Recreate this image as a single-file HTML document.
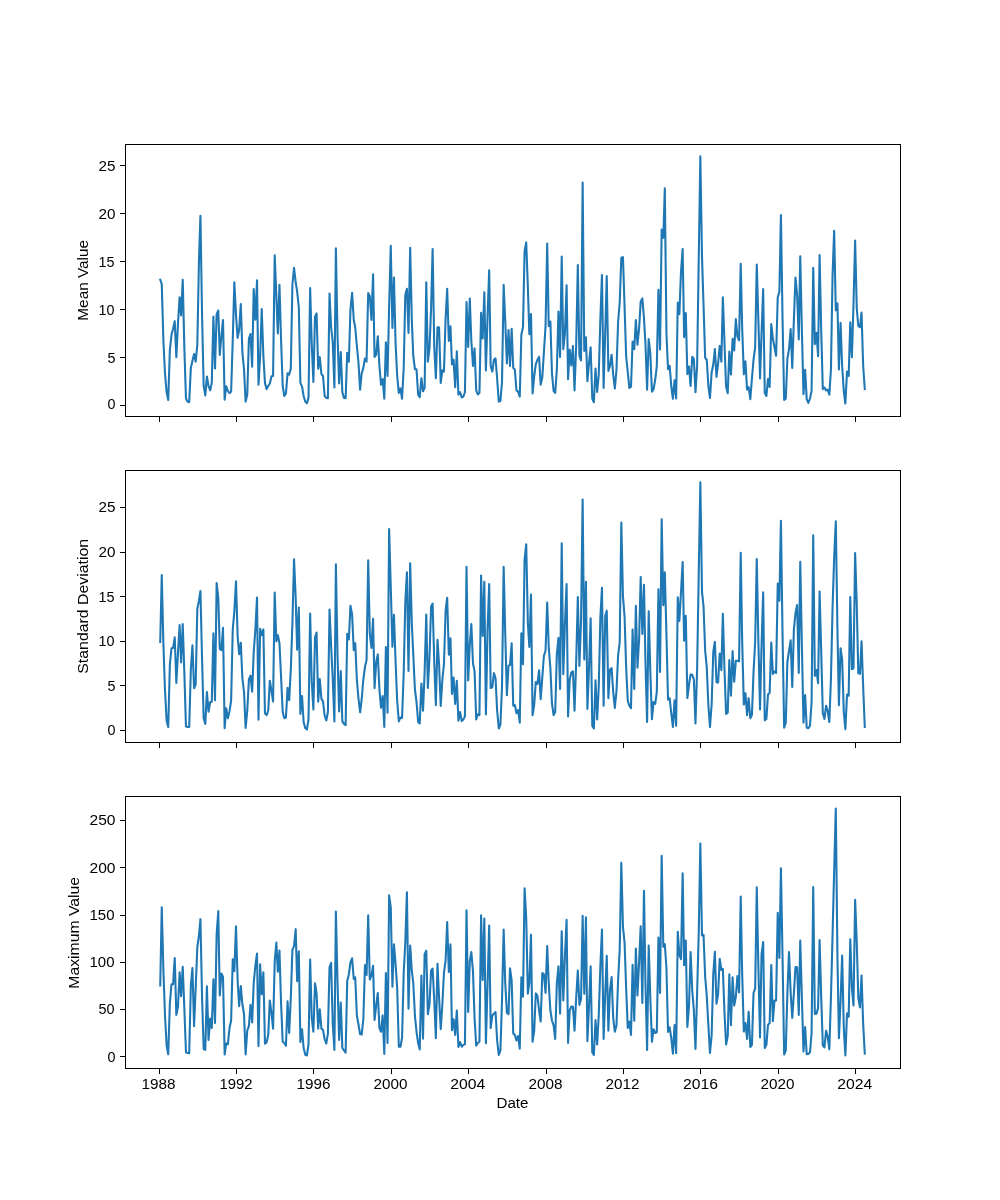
<!DOCTYPE html>
<html><head><meta charset="utf-8"><title>Monthly statistics</title>
<style>
html,body{margin:0;padding:0;background:#fff;}
svg{display:block;will-change:transform;}
text{font-family:"Liberation Sans",sans-serif;fill:#000;}
.ln{fill:none;stroke:#1f77b4;stroke-width:2.083;stroke-linejoin:round;stroke-linecap:square;}
.ax{fill:none;stroke:#000;stroke-width:1.000;shape-rendering:crispEdges;}
.tk{stroke:#000;stroke-width:1.000;shape-rendering:crispEdges;}
</style></head>
<body>
<svg width="1000" height="1200" viewBox="0 0 1000 1200">
<rect x="0" y="0" width="1000" height="1200" fill="#ffffff"/>
<polyline class="ln" points="160.23,279.75 161.76,284.12 163.41,341.00 164.99,373.50 166.64,392.25 168.23,400.00 169.87,349.75 171.51,334.75 173.10,328.50 174.74,321.18 176.33,357.25 177.97,323.50 179.62,297.18 181.10,315.38 182.74,279.67 184.33,347.25 185.97,398.50 187.56,401.62 189.20,402.25 190.85,367.87 192.43,361.00 194.08,354.05 195.67,361.62 197.31,344.75 198.95,261.05 200.43,215.76 202.08,316.00 203.67,386.00 205.31,395.38 206.90,376.55 208.54,386.00 210.18,390.37 211.77,382.87 213.41,316.55 215.00,368.50 216.64,314.12 218.29,310.55 219.77,355.00 221.41,336.00 223.00,320.05 224.64,399.75 226.23,386.30 227.87,391.00 229.52,393.25 231.11,391.63 232.75,339.75 234.34,282.18 235.98,314.75 237.62,337.88 239.16,329.75 240.80,304.05 242.39,352.25 244.03,369.75 245.62,401.62 247.26,394.75 248.90,338.50 250.49,334.05 252.14,366.63 253.72,289.05 255.37,319.75 257.01,280.30 258.49,384.75 260.13,356.00 261.72,309.05 263.37,356.00 264.96,382.87 266.60,389.12 268.24,386.00 269.83,383.50 271.47,376.18 273.06,376.00 274.70,255.27 276.34,296.00 277.83,333.50 279.47,284.68 281.06,339.75 282.70,386.00 284.29,396.00 285.93,393.50 287.57,373.18 289.16,374.75 290.81,368.50 292.40,284.75 294.04,267.80 295.68,282.25 297.16,291.62 298.81,307.25 300.39,382.87 302.04,386.62 303.63,396.00 305.27,401.62 306.91,403.25 308.50,397.87 310.14,288.05 311.73,343.50 313.37,382.00 315.02,316.62 316.55,313.42 318.19,368.75 319.78,357.17 321.42,374.13 323.01,376.00 324.66,396.00 326.30,397.87 327.89,398.25 329.53,293.43 331.12,327.25 332.76,342.25 334.40,387.50 335.89,248.27 337.53,336.00 339.12,383.50 340.76,351.92 342.35,392.25 343.99,397.87 345.63,398.25 347.22,352.80 348.86,361.62 350.45,309.75 352.10,292.80 353.74,319.75 355.22,327.25 356.86,346.00 358.45,362.25 360.10,389.75 361.68,373.50 363.33,367.87 364.97,358.43 366.56,361.62 368.20,293.05 369.79,296.00 371.43,320.00 373.07,274.30 374.56,357.00 376.20,354.75 377.79,336.18 379.43,366.00 381.02,384.75 382.66,379.05 384.30,398.75 385.89,342.17 387.54,376.00 389.12,307.08 390.77,245.77 392.41,327.87 393.95,277.55 395.59,343.50 397.18,376.00 398.82,392.87 400.41,388.42 402.05,398.75 403.69,368.50 405.28,295.37 406.92,288.80 408.51,332.88 410.16,247.79 411.80,319.75 413.28,356.00 414.92,369.13 416.51,369.30 418.15,394.75 419.74,397.25 421.39,378.17 423.03,391.25 424.62,387.88 426.26,282.18 427.85,361.62 429.49,348.50 431.13,307.25 432.62,249.03 434.26,347.25 435.85,378.25 437.49,327.25 439.08,327.25 440.72,382.87 442.36,370.30 443.95,371.62 445.59,318.50 447.18,288.80 448.83,341.00 450.47,326.30 451.95,364.50 453.59,359.67 455.18,387.25 456.82,351.30 458.41,394.75 460.06,392.17 461.70,397.50 463.29,396.62 464.93,392.25 466.52,301.92 468.16,347.00 469.80,298.42 471.34,341.00 472.98,366.00 474.57,348.42 476.21,390.37 477.80,394.50 479.44,392.87 481.09,312.80 482.68,338.50 484.32,292.18 485.91,370.38 487.55,316.00 489.19,270.30 490.67,366.00 492.32,371.62 493.91,359.75 495.55,358.43 497.14,378.50 498.78,401.62 500.42,401.00 502.01,382.25 503.65,284.68 505.24,321.00 506.88,363.50 508.53,330.05 510.01,366.00 511.65,328.80 513.24,367.87 514.88,369.75 516.47,390.37 518.11,391.63 519.76,396.62 521.35,334.75 522.99,327.25 524.58,251.46 526.22,242.42 527.86,286.94 529.35,334.13 530.99,314.05 532.58,393.50 534.22,376.00 535.81,364.12 537.45,359.75 539.09,356.80 540.68,384.75 542.32,377.25 543.91,352.25 545.55,326.00 547.20,243.57 548.73,326.00 550.38,321.55 551.96,373.50 553.61,391.00 555.20,392.87 556.84,369.75 558.48,311.55 560.07,357.00 561.71,256.51 563.30,349.12 564.94,333.50 566.59,285.30 568.07,379.12 569.71,349.67 571.30,365.38 572.94,345.92 574.53,390.37 576.17,346.00 577.82,265.05 579.40,356.00 581.05,360.37 582.64,182.58 584.28,351.00 585.92,337.18 587.40,381.25 589.05,362.25 590.64,347.18 592.28,398.50 593.87,402.25 595.51,368.43 597.15,392.00 598.74,374.75 600.38,318.50 601.97,275.05 603.61,387.88 605.26,331.00 606.74,275.92 608.38,371.00 609.97,366.00 611.61,354.68 613.20,374.75 614.84,388.50 616.49,369.75 618.08,322.25 619.72,302.25 621.31,257.79 622.95,257.09 624.59,307.25 626.13,356.00 627.77,372.25 629.36,387.88 631.00,386.62 632.59,341.55 634.23,349.12 635.87,320.05 637.46,344.75 639.11,328.50 640.69,301.63 642.34,298.42 643.98,318.50 645.46,343.50 647.10,389.75 648.69,339.05 650.34,353.50 651.93,391.63 653.57,389.12 655.21,379.75 656.80,366.00 658.44,289.68 660.03,349.50 661.67,229.57 663.31,237.75 664.80,188.33 666.44,333.50 668.03,369.13 669.67,365.93 671.26,386.00 672.90,398.75 674.54,380.30 676.13,398.50 677.78,302.55 679.37,314.12 681.01,271.60 682.65,249.03 684.13,337.25 685.78,313.05 687.36,374.13 689.01,366.55 690.60,386.00 692.24,356.80 693.88,359.13 695.47,392.25 697.11,366.00 698.70,261.05 700.34,156.30 701.99,256.25 703.52,304.75 705.16,357.87 706.75,359.75 708.39,386.00 709.98,397.87 711.63,372.25 713.27,364.75 714.86,349.05 716.50,377.00 718.09,363.50 719.73,345.92 721.37,361.62 722.86,297.18 724.50,343.50 726.09,386.62 727.73,393.25 729.32,351.55 730.96,374.50 732.60,338.80 734.19,350.37 735.83,319.05 737.42,336.63 739.07,340.38 740.71,263.80 742.19,328.50 743.83,374.13 745.42,361.30 747.07,389.75 748.65,387.18 750.30,399.13 751.94,378.50 753.53,359.75 755.17,347.25 756.76,264.57 758.40,321.00 760.04,378.50 761.53,333.50 763.17,289.05 764.76,392.87 766.40,396.00 767.99,379.05 769.63,387.00 771.27,324.05 772.86,338.50 774.51,347.25 776.09,355.75 777.74,297.25 779.38,291.62 780.92,215.09 782.56,319.75 784.15,400.00 785.79,398.75 787.38,358.50 789.02,349.12 790.66,329.05 792.25,367.87 793.89,319.75 795.48,277.55 797.13,294.75 798.77,339.50 800.25,256.32 801.89,331.00 803.48,394.12 805.12,369.68 806.71,399.13 808.36,402.88 810.00,398.50 811.59,391.00 813.23,267.80 814.82,344.13 816.46,332.80 818.10,356.25 819.59,255.08 821.23,331.00 822.82,389.12 824.46,387.55 826.05,390.37 827.69,389.67 829.33,394.75 830.92,369.75 832.56,275.43 834.15,230.81 835.80,310.37 837.44,303.43 838.92,369.50 840.56,322.80 842.15,366.00 843.79,391.00 845.38,403.50 847.03,371.55 848.67,376.00 850.26,322.18 851.90,357.25 853.49,304.20 855.13,240.59 856.77,308.50 858.31,326.00 859.95,327.25 861.54,312.55 863.18,366.00 864.77,389.12"/>
<rect class="ax" x="125.5" y="144.5" width="775.0" height="272.0"/>
<line class="tk" x1="159.5" y1="416.5" x2="159.5" y2="421.9"/><line class="tk" x1="236.5" y1="416.5" x2="236.5" y2="421.9"/><line class="tk" x1="313.5" y1="416.5" x2="313.5" y2="421.9"/><line class="tk" x1="391.5" y1="416.5" x2="391.5" y2="421.9"/><line class="tk" x1="468.5" y1="416.5" x2="468.5" y2="421.9"/><line class="tk" x1="546.5" y1="416.5" x2="546.5" y2="421.9"/><line class="tk" x1="623.5" y1="416.5" x2="623.5" y2="421.9"/><line class="tk" x1="700.5" y1="416.5" x2="700.5" y2="421.9"/><line class="tk" x1="778.5" y1="416.5" x2="778.5" y2="421.9"/><line class="tk" x1="855.5" y1="416.5" x2="855.5" y2="421.9"/>
<line class="tk" x1="120.1" y1="405.5" x2="125.5" y2="405.5"/><line class="tk" x1="120.1" y1="357.5" x2="125.5" y2="357.5"/><line class="tk" x1="120.1" y1="309.5" x2="125.5" y2="309.5"/><line class="tk" x1="120.1" y1="261.5" x2="125.5" y2="261.5"/><line class="tk" x1="120.1" y1="213.5" x2="125.5" y2="213.5"/><line class="tk" x1="120.1" y1="165.5" x2="125.5" y2="165.5"/>
<polyline class="ln" points="160.23,642.00 161.76,575.08 163.41,644.50 164.99,690.75 166.64,720.75 168.23,727.00 169.87,664.50 171.51,648.18 173.10,648.00 174.74,637.30 176.33,683.00 177.97,653.25 179.62,625.05 181.10,662.38 182.74,624.05 184.33,672.00 185.97,726.38 187.56,727.00 189.20,727.00 190.85,669.50 192.43,645.30 194.08,688.25 195.67,684.50 197.31,608.88 198.95,600.75 200.43,591.04 202.08,659.50 203.67,718.25 205.31,723.87 206.90,691.93 208.54,711.75 210.18,702.00 211.77,701.75 213.41,633.17 215.00,700.13 216.64,583.02 218.29,597.98 219.77,648.87 221.41,650.12 223.00,627.80 224.64,728.25 226.23,708.17 227.87,718.25 229.52,711.38 231.11,700.75 232.75,629.50 234.34,611.36 235.98,581.32 237.62,635.75 239.16,654.25 240.80,642.80 242.39,678.25 244.03,692.00 245.62,728.00 247.26,710.75 248.90,679.50 250.49,675.68 252.14,691.75 253.72,652.00 255.37,629.50 257.01,597.55 258.49,719.75 260.13,628.80 261.72,635.13 263.37,629.43 264.96,713.25 266.60,715.12 268.24,710.75 269.83,680.67 271.47,690.75 273.06,701.38 274.70,592.56 276.34,641.37 277.83,635.05 279.47,643.25 281.06,677.00 282.70,712.00 284.29,718.25 285.93,717.63 287.57,687.80 289.16,700.13 290.81,669.50 292.40,623.25 294.04,559.29 295.68,597.98 297.16,649.75 298.81,607.55 300.39,713.87 302.04,696.05 303.63,722.00 305.27,728.25 306.91,729.50 308.50,719.50 310.14,613.55 311.73,682.00 313.37,709.50 315.02,637.62 316.55,632.55 318.19,701.75 319.78,679.05 321.42,698.88 323.01,701.38 324.66,715.75 326.30,720.50 327.89,712.00 329.53,609.43 331.12,645.75 332.76,679.50 334.40,721.37 335.89,564.28 337.53,655.75 339.12,711.38 340.76,671.05 342.35,721.37 343.99,723.87 345.63,725.12 347.22,633.80 348.86,639.50 350.45,605.67 352.10,614.50 353.74,650.12 355.22,643.17 356.86,679.50 358.45,698.25 360.10,712.25 361.68,699.50 363.33,679.50 364.97,667.00 366.56,660.12 368.20,560.27 369.79,633.25 371.43,648.00 373.07,618.80 374.56,688.25 376.20,662.00 377.79,654.42 379.43,689.50 381.02,707.63 382.66,696.05 384.30,727.00 385.89,646.93 387.54,712.62 389.12,529.05 390.77,587.28 392.41,646.75 393.95,614.80 395.59,662.00 397.18,700.75 398.82,721.37 400.41,717.55 402.05,718.00 403.69,673.25 405.28,602.44 406.92,572.40 408.51,671.00 410.16,563.30 411.80,623.25 413.28,654.50 414.92,689.50 416.51,702.00 418.15,722.00 419.74,723.50 421.39,683.55 423.03,710.75 424.62,672.00 426.26,614.42 427.85,688.00 429.49,657.00 431.13,606.38 432.62,603.55 434.26,662.00 435.85,705.12 437.49,639.80 439.08,664.50 440.72,706.00 442.36,679.50 443.95,664.50 445.59,610.75 447.18,597.80 448.83,654.75 450.47,638.18 451.95,693.87 453.59,677.55 455.18,703.87 456.82,680.67 458.41,720.75 460.06,711.93 461.70,721.12 463.29,719.50 464.93,716.38 466.52,566.78 468.16,680.50 469.80,644.50 471.34,624.05 472.98,663.25 474.57,671.38 476.21,719.50 477.80,714.43 479.44,715.12 481.09,575.52 482.68,636.00 484.32,581.77 485.91,714.50 487.55,629.20 489.19,584.09 490.67,688.00 492.32,687.25 493.91,673.17 495.55,678.25 497.14,710.75 498.78,728.50 500.42,724.50 502.01,687.00 503.65,566.78 505.24,633.25 506.88,695.12 508.53,665.75 510.01,665.12 511.65,643.17 513.24,705.75 514.88,705.05 516.47,713.25 518.11,710.05 519.76,722.62 521.35,633.17 522.99,664.25 524.58,559.63 526.22,544.30 527.86,623.25 529.35,647.00 530.99,594.42 532.58,715.12 534.22,704.50 535.81,681.92 537.45,683.87 539.09,670.30 540.68,699.25 542.32,677.00 543.91,655.75 545.55,650.75 547.20,602.55 548.73,647.00 550.38,668.25 551.96,703.25 553.61,715.12 555.20,712.00 556.84,654.50 558.48,637.80 560.07,688.88 561.71,543.32 563.30,674.25 564.94,622.96 566.59,584.09 568.07,716.38 569.71,679.50 571.30,672.63 572.94,671.30 574.53,710.75 576.17,662.00 577.82,596.92 579.40,666.00 581.05,620.28 582.64,499.53 584.28,659.50 585.92,581.77 587.40,708.88 589.05,667.00 590.64,618.18 592.28,725.75 593.87,728.50 595.51,680.30 597.15,719.50 598.74,687.00 600.38,617.00 601.97,587.83 603.61,705.75 605.26,615.82 606.74,610.68 608.38,698.25 609.97,669.50 611.61,668.18 613.20,692.00 614.84,708.00 616.49,690.75 618.08,655.75 619.72,642.00 621.31,522.45 622.95,596.20 624.59,617.00 626.13,667.00 627.77,700.75 629.36,705.75 631.00,708.25 632.59,629.43 634.23,688.88 635.87,605.67 637.46,667.62 639.11,639.50 640.69,577.04 642.34,633.88 643.98,584.89 645.46,662.00 647.10,722.00 648.69,611.30 650.34,672.00 651.93,719.25 653.57,701.93 655.21,703.87 656.80,692.00 658.44,589.26 660.03,672.00 661.67,519.33 663.31,605.13 664.80,572.40 666.44,634.50 668.03,699.75 669.67,698.17 671.26,713.25 672.90,727.00 674.54,700.30 676.13,725.75 677.78,597.30 679.37,621.00 681.01,591.74 682.65,562.14 684.13,640.75 685.78,615.67 687.36,698.00 689.01,684.50 690.60,674.50 692.24,674.80 693.88,679.50 695.47,723.50 697.11,669.50 698.70,575.68 700.34,482.40 701.99,591.83 703.52,606.01 705.16,650.75 706.75,667.00 708.39,705.75 709.98,727.00 711.63,704.50 713.27,652.00 714.86,641.92 716.50,682.25 718.09,682.63 719.73,653.55 721.37,670.13 722.86,613.80 724.50,669.50 726.09,713.87 727.73,712.62 729.32,660.05 730.96,695.75 732.60,651.05 734.19,681.75 735.83,660.75 737.42,660.67 739.07,661.38 740.71,552.78 742.19,642.00 743.83,704.50 745.42,693.18 747.07,715.12 748.65,698.17 750.30,718.25 751.94,715.12 753.53,672.00 755.17,642.00 756.76,559.02 758.40,642.00 760.04,709.50 761.53,645.75 763.17,592.38 764.76,720.13 766.40,718.88 767.99,694.50 769.63,693.00 771.27,642.55 772.86,673.88 774.51,671.30 776.09,673.00 777.74,583.64 779.38,600.75 780.92,520.84 782.56,635.75 784.15,727.63 785.79,722.62 787.38,662.00 789.02,650.75 790.66,640.30 792.25,687.00 793.89,629.50 795.48,613.25 797.13,605.05 798.77,673.00 800.25,561.79 801.89,645.75 803.48,722.62 805.12,695.05 806.71,727.63 808.36,728.25 810.00,725.75 811.59,702.00 813.23,535.29 814.82,676.00 816.46,670.05 818.10,683.25 819.59,591.58 821.23,652.00 822.82,713.25 824.46,718.88 826.05,705.68 827.69,710.75 829.33,722.00 830.92,679.50 832.56,607.80 834.15,557.84 835.80,521.20 837.44,629.50 838.92,705.12 840.56,648.18 842.15,659.50 843.79,712.00 845.38,729.25 847.03,694.43 848.67,695.75 850.26,596.92 851.90,669.25 853.49,668.25 855.13,553.05 856.77,605.12 858.31,673.25 859.95,673.88 861.54,641.30 863.18,687.00 864.77,727.00"/>
<rect class="ax" x="125.5" y="470.5" width="775.0" height="272.0"/>
<line class="tk" x1="159.5" y1="742.5" x2="159.5" y2="747.9"/><line class="tk" x1="236.5" y1="742.5" x2="236.5" y2="747.9"/><line class="tk" x1="313.5" y1="742.5" x2="313.5" y2="747.9"/><line class="tk" x1="391.5" y1="742.5" x2="391.5" y2="747.9"/><line class="tk" x1="468.5" y1="742.5" x2="468.5" y2="747.9"/><line class="tk" x1="546.5" y1="742.5" x2="546.5" y2="747.9"/><line class="tk" x1="623.5" y1="742.5" x2="623.5" y2="747.9"/><line class="tk" x1="700.5" y1="742.5" x2="700.5" y2="747.9"/><line class="tk" x1="778.5" y1="742.5" x2="778.5" y2="747.9"/><line class="tk" x1="855.5" y1="742.5" x2="855.5" y2="747.9"/>
<line class="tk" x1="120.1" y1="730.5" x2="125.5" y2="730.5"/><line class="tk" x1="120.1" y1="685.5" x2="125.5" y2="685.5"/><line class="tk" x1="120.1" y1="641.5" x2="125.5" y2="641.5"/><line class="tk" x1="120.1" y1="596.5" x2="125.5" y2="596.5"/><line class="tk" x1="120.1" y1="552.5" x2="125.5" y2="552.5"/><line class="tk" x1="120.1" y1="507.5" x2="125.5" y2="507.5"/>
<polyline class="ln" points="160.23,985.50 161.76,907.35 163.41,970.50 164.99,1015.50 166.64,1045.50 168.23,1054.25 169.87,1003.00 171.51,984.25 173.10,984.25 174.74,957.93 176.33,1014.87 177.97,1006.75 179.62,972.30 181.10,996.12 182.74,966.68 184.33,1008.00 185.97,1052.38 187.56,1053.00 189.20,1053.25 190.85,985.50 192.43,967.93 194.08,1026.12 195.67,988.00 197.31,947.38 198.95,935.50 200.43,919.17 202.08,998.00 203.67,1049.00 205.31,1049.87 206.90,986.30 208.54,1039.87 210.18,1018.55 211.77,1028.00 213.41,979.18 215.00,1023.00 216.64,934.25 218.29,911.04 219.77,995.50 221.41,973.55 223.00,976.75 224.64,1054.50 226.23,1043.55 227.87,1044.25 229.52,1028.00 231.11,1020.50 232.75,959.17 234.34,971.13 235.98,926.30 237.62,980.50 239.16,1006.12 240.80,986.05 242.39,1004.25 244.03,1014.25 245.62,1054.50 247.26,1030.50 248.90,1026.12 250.49,1004.80 252.14,1022.38 253.72,983.00 255.37,965.50 257.01,953.55 258.49,1046.12 260.13,964.17 261.72,994.25 263.37,972.30 264.96,1043.63 266.60,1042.38 268.24,1034.87 269.83,1000.42 271.47,1013.00 273.06,1028.63 274.70,961.75 276.34,942.55 277.83,971.75 279.47,950.42 281.06,1003.00 282.70,1041.75 284.29,1043.00 285.93,1045.75 287.57,1001.30 289.16,1033.00 290.81,998.00 292.40,949.87 294.04,946.13 295.68,929.17 297.16,981.12 298.81,951.30 300.39,1042.00 302.04,1029.18 303.63,1048.00 305.27,1054.87 306.91,1055.50 308.50,1044.25 310.14,959.55 311.73,1018.00 313.37,1031.75 315.02,983.30 316.55,993.00 318.19,1028.63 319.78,1009.18 321.42,1028.63 323.01,1029.87 324.66,1039.25 326.30,1043.63 327.89,1033.63 329.53,967.38 331.12,962.93 332.76,1024.25 334.40,1049.87 335.89,911.60 337.53,983.00 339.12,1039.87 340.76,1002.55 342.35,1048.00 343.99,1050.50 345.63,1052.75 347.22,981.12 348.86,974.25 350.45,962.38 352.10,958.30 353.74,979.00 355.22,977.30 356.86,1015.50 358.45,1024.25 360.10,1034.25 361.68,1034.50 363.33,1019.25 364.97,965.05 366.56,974.87 368.20,915.29 369.79,979.50 371.43,975.50 373.07,965.80 374.56,1019.87 376.20,1005.50 377.79,992.93 379.43,1028.00 381.02,1031.75 382.66,1015.42 384.30,1054.00 385.89,972.93 387.54,1043.00 389.12,895.35 390.77,907.27 392.41,986.75 393.95,944.17 395.59,964.25 397.18,988.00 398.82,1046.75 400.41,1046.75 402.05,1038.00 403.69,973.00 405.28,943.00 406.92,892.32 408.51,1008.63 410.16,945.42 411.80,970.50 413.28,983.00 414.92,1015.50 416.51,1031.75 418.15,1043.00 419.74,1049.50 421.39,975.42 423.03,1038.63 424.62,954.25 426.26,950.80 427.85,1014.25 429.49,1004.25 431.13,970.50 432.62,968.55 434.26,1000.50 435.85,1038.25 437.49,963.80 439.08,998.00 440.72,1029.25 442.36,1004.25 443.95,973.00 445.59,960.50 447.18,922.05 448.83,972.00 450.47,944.17 451.95,1030.25 453.59,1019.18 455.18,1034.87 456.82,1010.42 458.41,1047.00 460.06,1042.05 461.70,1046.75 463.29,1044.87 464.93,1044.25 466.52,910.28 468.16,1012.00 469.80,961.13 471.34,952.05 472.98,971.75 474.57,1018.00 476.21,1045.75 477.80,1043.00 479.44,1041.75 481.09,915.29 482.68,979.87 484.32,918.60 485.91,1043.25 487.55,984.25 489.19,925.42 490.67,1028.00 492.32,1015.50 493.91,1013.63 495.55,1012.05 497.14,1040.50 498.78,1054.87 500.42,1050.50 502.01,1000.50 503.65,929.55 505.24,983.00 506.88,1012.75 508.53,1014.25 510.01,968.30 511.65,980.50 513.24,1033.63 514.88,1034.87 516.47,1040.50 518.11,1036.05 519.76,1048.63 521.35,977.30 522.99,996.75 524.58,888.26 526.22,918.23 527.86,993.63 529.35,983.00 530.99,934.80 532.58,1041.75 534.22,1030.50 535.81,993.30 537.45,995.50 539.09,1010.50 540.68,1021.50 542.32,972.93 543.91,974.25 545.55,993.00 547.20,946.05 548.73,983.00 550.38,1010.50 551.96,1020.50 553.61,1025.50 555.20,1039.00 556.84,983.00 558.48,966.30 560.07,1013.63 561.71,931.30 563.30,1000.50 564.94,955.50 566.59,919.80 568.07,1043.00 569.71,1010.50 571.30,1006.50 572.94,1006.67 574.53,1030.75 576.17,998.00 577.82,970.42 579.40,1004.87 581.05,999.25 582.64,915.76 584.28,993.63 585.92,917.27 587.40,1041.12 589.05,1005.50 590.64,966.30 592.28,1052.38 593.87,1054.87 595.51,1020.05 597.15,1044.50 598.74,1015.50 600.38,965.50 601.97,929.55 603.61,1039.00 605.26,993.00 606.74,955.80 608.38,1030.75 609.97,990.50 611.61,977.05 613.20,1018.00 614.84,1031.75 616.49,1025.50 618.08,980.50 619.72,949.25 621.31,862.84 622.95,926.70 624.59,943.00 626.13,988.00 627.77,1028.00 629.36,1021.67 631.00,1034.87 632.59,964.80 634.23,1020.75 635.87,948.55 637.46,995.50 639.11,961.75 640.69,926.30 642.34,1003.00 643.98,890.81 645.46,983.00 647.10,1049.87 648.69,945.42 650.34,998.00 651.93,1041.75 653.57,1029.18 655.21,1033.00 656.80,1032.38 658.44,937.55 660.03,993.00 661.67,855.85 663.31,946.75 664.80,944.17 666.44,968.00 668.03,1032.00 669.67,1027.30 671.26,1038.00 672.90,1053.63 674.54,1025.05 676.13,1053.25 677.78,931.68 679.37,954.87 681.01,959.25 682.65,873.33 684.13,965.25 685.78,940.42 687.36,1027.00 689.01,1005.50 690.60,952.05 692.24,990.50 693.88,1010.50 695.47,1049.00 697.11,993.00 698.70,934.25 700.34,843.56 701.99,935.50 703.52,934.80 705.16,976.75 706.75,995.50 708.39,1025.50 709.98,1053.00 711.63,1035.50 713.27,974.25 714.86,951.68 716.50,1003.63 718.09,994.25 719.73,958.80 721.37,969.87 722.86,968.80 724.50,1013.00 726.09,1044.50 727.73,1036.12 729.32,974.18 730.96,1025.25 732.60,977.30 734.19,1005.50 735.83,996.75 737.42,976.05 739.07,992.38 740.71,896.58 742.19,974.25 743.83,1031.50 745.42,1022.93 747.07,1039.00 748.65,1011.67 750.30,1047.00 751.94,1044.87 753.53,993.00 755.17,988.63 756.76,887.32 758.40,968.00 760.04,1037.38 761.53,954.25 763.17,942.05 764.76,1048.00 766.40,1044.87 767.99,1024.87 769.63,1023.00 771.27,965.05 772.86,1021.12 774.51,1000.42 776.09,1000.50 777.74,912.83 779.38,958.00 780.92,868.23 782.56,958.00 784.15,1054.50 785.79,1050.50 787.38,993.00 789.02,952.05 790.66,993.00 792.25,1018.00 793.89,993.00 795.48,967.05 797.13,967.38 798.77,1014.87 800.25,940.42 801.89,998.00 803.48,1051.50 805.12,1027.05 806.71,1054.25 808.36,1054.00 810.00,1052.38 811.59,1033.00 813.23,886.94 814.82,1014.00 816.46,1013.63 818.10,1008.00 819.59,940.05 821.23,998.00 822.82,1045.50 824.46,1047.38 826.05,1030.80 827.69,1036.75 829.33,1049.25 830.92,998.00 832.56,935.24 834.15,870.98 835.80,808.50 837.44,956.97 838.92,1038.25 840.56,1000.50 842.15,955.42 843.79,1028.00 845.38,1055.50 847.03,1013.30 848.67,1016.75 850.26,939.17 851.90,988.00 853.49,1005.50 855.13,899.70 856.77,942.79 858.31,998.00 859.95,1007.38 861.54,975.42 863.18,1024.25 864.77,1053.63"/>
<rect class="ax" x="125.5" y="796.5" width="775.0" height="272.0"/>
<line class="tk" x1="159.5" y1="1068.5" x2="159.5" y2="1073.9"/><line class="tk" x1="236.5" y1="1068.5" x2="236.5" y2="1073.9"/><line class="tk" x1="313.5" y1="1068.5" x2="313.5" y2="1073.9"/><line class="tk" x1="391.5" y1="1068.5" x2="391.5" y2="1073.9"/><line class="tk" x1="468.5" y1="1068.5" x2="468.5" y2="1073.9"/><line class="tk" x1="546.5" y1="1068.5" x2="546.5" y2="1073.9"/><line class="tk" x1="623.5" y1="1068.5" x2="623.5" y2="1073.9"/><line class="tk" x1="700.5" y1="1068.5" x2="700.5" y2="1073.9"/><line class="tk" x1="778.5" y1="1068.5" x2="778.5" y2="1073.9"/><line class="tk" x1="855.5" y1="1068.5" x2="855.5" y2="1073.9"/>
<line class="tk" x1="120.1" y1="1056.5" x2="125.5" y2="1056.5"/><line class="tk" x1="120.1" y1="1009.5" x2="125.5" y2="1009.5"/><line class="tk" x1="120.1" y1="962.5" x2="125.5" y2="962.5"/><line class="tk" x1="120.1" y1="915.5" x2="125.5" y2="915.5"/><line class="tk" x1="120.1" y1="867.5" x2="125.5" y2="867.5"/><line class="tk" x1="120.1" y1="820.5" x2="125.5" y2="820.5"/>
<text x="98.50" y="171.00" font-size="14.00" textLength="17.00" lengthAdjust="spacingAndGlyphs">25</text>
<text x="98.50" y="219.00" font-size="14.00" textLength="17.00" lengthAdjust="spacingAndGlyphs">20</text>
<text x="98.50" y="267.00" font-size="14.00" textLength="16.00" lengthAdjust="spacingAndGlyphs">15</text>
<text x="98.50" y="315.00" font-size="14.00" textLength="16.00" lengthAdjust="spacingAndGlyphs">10</text>
<text x="107.50" y="362.70" font-size="14.00" textLength="8.00" lengthAdjust="spacingAndGlyphs">5</text>
<text x="107.50" y="409.00" font-size="14.00" textLength="8.00" lengthAdjust="spacingAndGlyphs">0</text>
<text x="98.50" y="512.00" font-size="14.00" textLength="17.00" lengthAdjust="spacingAndGlyphs">25</text>
<text x="98.50" y="557.00" font-size="14.00" textLength="17.00" lengthAdjust="spacingAndGlyphs">20</text>
<text x="98.50" y="602.00" font-size="14.00" textLength="16.00" lengthAdjust="spacingAndGlyphs">15</text>
<text x="98.50" y="646.00" font-size="14.00" textLength="16.00" lengthAdjust="spacingAndGlyphs">10</text>
<text x="107.50" y="691.00" font-size="14.00" textLength="8.00" lengthAdjust="spacingAndGlyphs">5</text>
<text x="107.50" y="735.00" font-size="14.00" textLength="8.00" lengthAdjust="spacingAndGlyphs">0</text>
<text x="89.50" y="825.00" font-size="14.00" textLength="26.00" lengthAdjust="spacingAndGlyphs">250</text>
<text x="89.50" y="873.00" font-size="14.00" textLength="26.00" lengthAdjust="spacingAndGlyphs">200</text>
<text x="89.50" y="920.00" font-size="14.00" textLength="25.00" lengthAdjust="spacingAndGlyphs">150</text>
<text x="89.50" y="967.00" font-size="14.00" textLength="25.00" lengthAdjust="spacingAndGlyphs">100</text>
<text x="98.50" y="1014.00" font-size="14.00" textLength="16.00" lengthAdjust="spacingAndGlyphs">50</text>
<text x="107.50" y="1062.00" font-size="14.00" textLength="8.00" lengthAdjust="spacingAndGlyphs">0</text>
<text x="141.50" y="1089.00" font-size="14.00" textLength="34.00" lengthAdjust="spacingAndGlyphs">1988</text>
<text x="219.50" y="1089.00" font-size="14.00" textLength="33.00" lengthAdjust="spacingAndGlyphs">1992</text>
<text x="296.50" y="1089.00" font-size="14.00" textLength="34.00" lengthAdjust="spacingAndGlyphs">1996</text>
<text x="373.50" y="1089.00" font-size="14.00" textLength="34.00" lengthAdjust="spacingAndGlyphs">2000</text>
<text x="450.30" y="1089.00" font-size="14.00" textLength="35.00" lengthAdjust="spacingAndGlyphs">2004</text>
<text x="528.50" y="1089.00" font-size="14.00" textLength="34.00" lengthAdjust="spacingAndGlyphs">2008</text>
<text x="605.50" y="1089.00" font-size="14.00" textLength="34.00" lengthAdjust="spacingAndGlyphs">2012</text>
<text x="683.10" y="1089.00" font-size="14.00" textLength="35.00" lengthAdjust="spacingAndGlyphs">2016</text>
<text x="760.50" y="1089.00" font-size="14.00" textLength="34.00" lengthAdjust="spacingAndGlyphs">2020</text>
<text x="837.20" y="1089.00" font-size="14.00" textLength="35.00" lengthAdjust="spacingAndGlyphs">2024</text>
<text x="496.50" y="1108.00" font-size="14.00" textLength="32.00" lengthAdjust="spacingAndGlyphs">Date</text>
<text transform="translate(87.50,320.70) rotate(-90)" font-size="14.00" textLength="80.82" lengthAdjust="spacingAndGlyphs">Mean Value</text>
<text transform="translate(87.50,673.70) rotate(-90)" font-size="14.00" textLength="134.81" lengthAdjust="spacingAndGlyphs">Standard Deviation</text>
<text transform="translate(78.50,988.70) rotate(-90)" font-size="14.00" textLength="111.81" lengthAdjust="spacingAndGlyphs">Maximum Value</text>
</svg>
</body></html>
